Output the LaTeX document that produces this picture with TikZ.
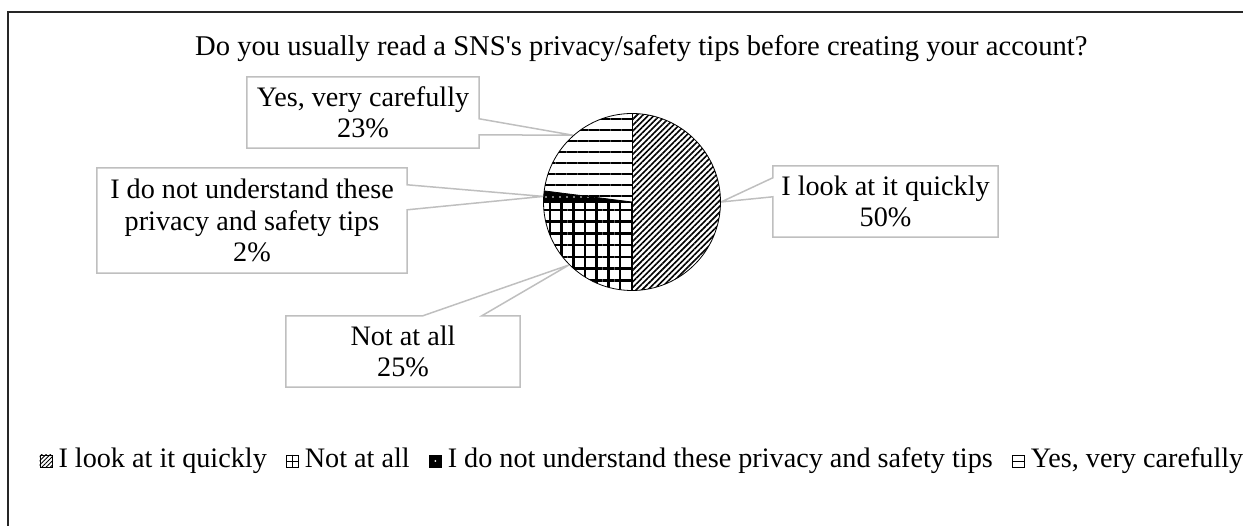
\documentclass[tikz,border=0pt]{standalone}
\usepackage{fontspec}
\setmainfont{Liberation Serif}[Ligatures=TeXOff]
\usetikzlibrary{patterns,patterns.meta,positioning,calc}
\definecolor{leadgray}{HTML}{BFBFBF}
\begin{document}
\begin{tikzpicture}[x=1pt,y=1pt,
  every node/.style={font=\fontsize{28.2}{31.5}\selectfont},
  lbl/.style={align=center, inner sep=0pt},
  callout/.style={draw=leadgray, line width=1.5pt, line join=miter},
  slice/.style={draw=black, line width=0.8pt},
  legtext/.style={inner sep=0pt, text height=19pt, text depth=6pt},
  legmark/.style={draw=black, line width=0.6pt, minimum size=12pt, inner sep=0pt}
]
\useasboundingbox (0,0) rectangle (1243,-526);
% frame
\draw[black!85, line width=1.2pt] (1243,-12) -- (8,-12) -- (8,-526);
% title
\node[anchor=base west, inner sep=0pt, font=\fontsize{28.6}{32}\selectfont] (title) at (195,-56) {Do you usually read a SNS's privacy/safety tips before creating your account?};
% pie geometry
\coordinate (C) at (632,-202);
\coordinate (tY) at ([shift={(131.4:89pt)}]C);
\coordinate (tD) at ([shift={(176.4:89pt)}]C);
\coordinate (tN) at ([shift={(-135:89pt)}]C);
\coordinate (tL) at ([shift={(0:89pt)}]C);
% label boxes
\node[lbl, minimum width=232pt, minimum height=71pt] (bY) at (363,-112.5) {Yes, very carefully\\23\%};
\node[lbl, minimum width=225pt, minimum height=71pt] (bL) at (885.5,-201.5) {I look at it quickly\\50\%};
\node[lbl, minimum width=310pt, minimum height=105pt] (bD) at (252,-220.5) {I do not understand these\\privacy and safety tips\\2\%};
\node[lbl, minimum width=234pt, minimum height=71pt] (bN) at (403,-351.5) {Not at all\\25\%};
% callouts
\draw[callout] (bY.north west) -- (bY.north east) -- ([yshift=-42pt]bY.north east) -- (tY) -- ([yshift=-58pt]bY.north east) -- (bY.south east) -- (bY.south west) -- cycle;
\draw[callout] (bL.north west) -- (bL.north east) -- (bL.south east) -- (bL.south west) -- ([yshift=-31pt]bL.north west) -- (tL) -- ([yshift=-12pt]bL.north west) -- cycle;
\draw[callout] (bD.north west) -- (bD.north east) -- ([yshift=-17pt]bD.north east) -- (tD) -- ([yshift=-42pt]bD.north east) -- (bD.south east) -- (bD.south west) -- cycle;
\draw[callout] (bN.north west) -- ([xshift=137pt]bN.north west) -- (tN) -- ([xshift=196pt]bN.north west) -- (bN.north east) -- (bN.south east) -- (bN.south west) -- cycle;
% pie slices
\path[pattern={Lines[angle=45,distance=4.1pt,line width=1.6pt]}] (C) -- ++(90:88.5pt) arc[start angle=90,end angle=-90,radius=88.5pt] -- cycle;
\path[pattern={Lines[angle=0,distance=11.7pt,line width=2.6pt]}] (C) -- ++(-90:88.5pt) arc[start angle=-90,end angle=-180,radius=88.5pt] -- cycle;
\path[pattern={Lines[angle=90,distance=11.7pt,line width=2.6pt]}] (C) -- ++(-90:88.5pt) arc[start angle=-90,end angle=-180,radius=88.5pt] -- cycle;
\fill[black] (C) -- ++(180:88.5pt) arc[start angle=180,end angle=172.8,radius=88.5pt] -- cycle;
\path[pattern={Dots[distance=7pt,radius=0.9pt]}, pattern color=white] (C) -- ++(180:88.5pt) arc[start angle=180,end angle=172.8,radius=88.5pt] -- cycle;
\path[pattern={Lines[angle=0,distance=11pt,line width=2.2pt]}] (C) -- ++(172.8:88.5pt) arc[start angle=172.8,end angle=90,radius=88.5pt] -- cycle;
\draw[slice] (C) circle[radius=88.5pt];
\draw[slice] ([yshift=88.5pt]C) -- ([yshift=-88.5pt]C);
\draw[slice] (C) -- ++(180:88.5pt);
\draw[slice] (C) -- ++(172.8:88.5pt);
% legend
\node[legmark] (m1) at (46,-461) {};
\path[pattern={Lines[angle=45,distance=3pt,line width=0.9pt]}] (m1.south west) rectangle (m1.north east);
\node[legtext, right=6pt of m1] (t1) {I look at it quickly};
\node[legmark, right=19pt of t1] (m2) {};
\draw[line width=0.8pt] (m2.north) -- (m2.south) (m2.west) -- (m2.east);
\node[legtext, right=6pt of m2] (t2) {Not at all};
\node[legmark, fill=black, right=19pt of t2] (m3) {};
\fill[white] (m3.center) circle[radius=1pt];
\node[legtext, right=6pt of m3] (t3) {I do not understand these privacy and safety tips};
\node[legmark, right=19pt of t3] (m4) {};
\draw[line width=0.8pt] (m4.west) -- (m4.east);
\node[legtext, right=6pt of m4] (t4) {Yes, very carefully};
\end{tikzpicture}
\end{document}
